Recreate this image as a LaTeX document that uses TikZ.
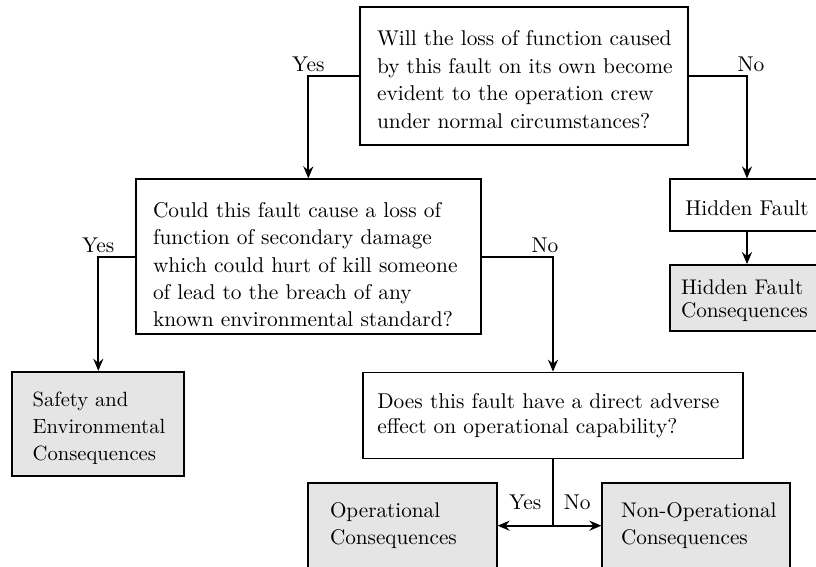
\documentclass[tikz,border=0pt]{standalone}
\usetikzlibrary{arrows.meta}
% invisible strut that sets the height of a box's first line
\newcommand{\firstlift}[1]{\rule{0pt}{#1}}
\begin{document}
\begin{tikzpicture}[x=0.5pt,y=-0.5pt,
  txt/.style={font=\fontsize{10.7pt}{13.6pt}\selectfont},
  fs/.style 2 args={font=\fontsize{#1}{#2}\selectfont},
  box/.style={txt, draw, line width=0.9pt, inner ysep=0pt, align=left},
  cons/.style={box, fill=gray!20},
  conn/.style={line width=0.9pt},
  arr/.style={conn, -{Stealth[length=6pt,width=5pt,inset=2pt]}},
  lbl/.style={txt, inner sep=0pt}
]
\useasboundingbox (0,0) rectangle (816,567);

% questions
\node[box, fs={10.7pt}{13.7pt}, minimum width=164pt, minimum height=69pt, inner xsep=8.5pt, text width=147pt] (q1) at (524,76)
  {\mbox{\firstlift{11.1pt}Will the loss of function caused}\\\mbox{by this fault on its own become}\\\mbox{evident to the operation crew}\\\mbox{under normal circumstances?}};
\node[box, fs={10.7pt}{13.55pt}, minimum width=172.65pt, minimum height=77.35pt, inner xsep=8.65pt, text width=155.35pt] (q2) at (308.35,256.65)
  {\mbox{\firstlift{15.5pt}Could this fault cause a loss of}\\\mbox{function of secondary damage}\\\mbox{which could hurt of kill someone}\\\mbox{of lead to the breach of any}\\\mbox{known environmental standard?}};
\node[box, fs={10.7pt}{12.3pt}, minimum width=189.7pt, minimum height=43pt, inner xsep=7pt, text width=175.7pt] (q3) at (553,415.6)
  {\mbox{\firstlift{7.7pt}Does this fault have a direct adverse}\\\mbox{effect on operational capability?}};

% hidden fault branch
\node[box, align=center, minimum width=77pt, minimum height=25.7pt] (hf) at (747,205) {\firstlift{11pt}Hidden Fault};
\node[cons, fs={10.6pt}{11.7pt}, minimum width=77pt, minimum height=33pt, inner xsep=5.5pt, text width=66pt] (hfc) at (747,298)
  {\mbox{\firstlift{9.8pt}Hidden Fault}\\\mbox{Consequences}};

% consequence categories
\node[cons, fs={10.3pt}{13.5pt}, minimum width=86pt, minimum height=52pt, inner xsep=10.2pt, text width=65.6pt] (safe) at (98.3,423.7)
  {\mbox{\firstlift{12pt}Safety and}\\\mbox{Environmental}\\\mbox{Consequences}};
\node[cons, fs={10.6pt}{13.6pt}, minimum width=94.2pt, minimum height=43pt, inner xsep=10.85pt, text width=72.5pt] (op) at (402.5,525.7)
  {\mbox{Operational}\\\mbox{Consequences}};
\node[cons, fs={10.6pt}{13.6pt}, minimum width=93.85pt, minimum height=43pt, inner xsep=9.35pt, text width=75.15pt] (nonop) at (696.15,525.7)
  {\mbox{Non-Operational}\\\mbox{Consequences}};

% connectors
\draw[arr] (q1.west) -| node[lbl, pos=0.5, above=1.7pt] (y1) {Yes} (q2.north);
\draw[arr] (q1.east) -| node[lbl, pos=0.5, above=1.7pt, xshift=2pt] (n1) {No} (hf.north);
\draw[arr] (hf.south) -- (hfc.north);
\draw[arr] (q2.west) -| node[lbl, pos=0.5, above=1.7pt] (y2) {Yes} (safe.north);
\draw[arr] (q2.east) -| node[lbl, pos=0.5, above=1.7pt, xshift=-4pt] (n2) {No} (q3.north);
\coordinate (j) at (q3.south |- op.east);
\draw[conn] (q3.south) -- (j);
\draw[arr] (j) -- node[lbl, pos=0.5, above=7.3pt] (y3) {Yes} (op.east);
\draw[arr] (j) -- node[lbl, pos=0.5, above=7.3pt] (n3) {No} (nonop.west);
\end{tikzpicture}
\end{document}
